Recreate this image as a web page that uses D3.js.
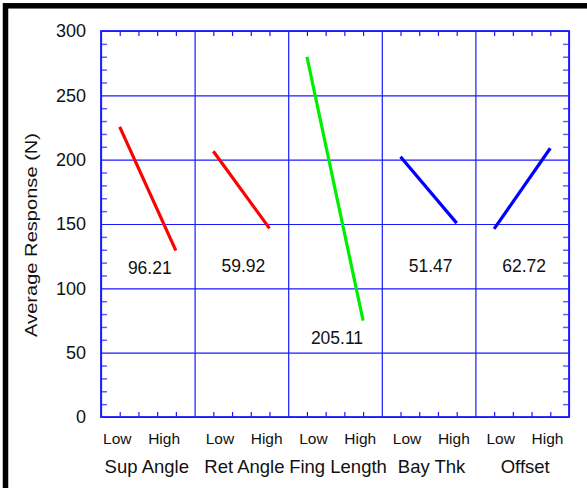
<!DOCTYPE html>
<html>
<head>
<meta charset="utf-8">
<script src="https://cdn.jsdelivr.net/npm/d3@7"></script>
<style>
  body { margin: 0; background: #fff; }
  text { font-family: "Liberation Sans", Arial, sans-serif; fill: #111; }
</style>
</head>
<body>
<div id="chart"></div>
<script>
var svgWidth = 587;
var svgHeight = 488;

// factors, low / high average response (N) and effect labels
var factors = ["Sup Angle", "Ret Angle", "Fing Length", "Bay Thk", "Offset"];
var lowValues = [225.5, 206.5, 280.0, 202.2, 146.2];
var highValues = [129.3, 146.6, 74.9, 150.7, 208.9];
var effects = ["96.21", "59.92", "205.11", "51.47", "62.72"];
var lineColors = ["#ff0000", "#ff0000", "#00ee00", "#0000ff", "#0000ff"];
var levelLabels = ["Low", "High"];
var yTicks = [0, 50, 100, 150, 200, 250, 300];

var margin = { top: 31, right: 18, bottom: 71, left: 101 };
var width = svgWidth - margin.left - margin.right;
var height = svgHeight - margin.top - margin.bottom;
var blue = "#1a1aff";

var svg = d3.select("#chart")
  .append("svg")
  .attr("width", svgWidth)
  .attr("height", svgHeight);

// black frame at the top left
svg.append("rect")
  .attr("x", 5.5).attr("y", 5.8)
  .attr("width", 800).attr("height", 800)
  .attr("fill", "white")
  .attr("stroke", "black")
  .attr("stroke-width", 5.5);

var chartGroup = svg.append("g")
  .attr("transform", `translate(${margin.left}, ${margin.top})`);

var xScale = d3.scaleLinear().domain([0, factors.length]).range([0, width]);
var yScale = d3.scaleLinear().domain([0, 300]).range([height, 0]);

// minor ticks, inside on all four sides
var minorY = d3.range(10, 300, 10).filter(v => v % 50 !== 0);
var minorX = d3.range(0, factors.length, 0.2).filter(v => Math.abs(v - Math.round(v)) > 0.01);

chartGroup.append("g")
  .call(d3.axisLeft(yScale).tickValues(minorY).tickSize(-6).tickFormat(""))
  .call(g => g.select(".domain").remove())
  .selectAll("line").attr("stroke", "#6060ff").attr("stroke-width", 1.5);
chartGroup.append("g")
  .attr("transform", `translate(${width},0)`)
  .call(d3.axisRight(yScale).tickValues(minorY).tickSize(-6).tickFormat(""))
  .call(g => g.select(".domain").remove())
  .selectAll("line").attr("stroke", "#6060ff").attr("stroke-width", 1.5);
chartGroup.append("g")
  .call(d3.axisTop(xScale).tickValues(minorX).tickSize(-5).tickFormat(""))
  .call(g => g.select(".domain").remove())
  .selectAll("line").attr("stroke", blue).attr("stroke-width", 1.2);
chartGroup.append("g")
  .attr("transform", `translate(0,${height})`)
  .call(d3.axisBottom(xScale).tickValues(minorX).tickSize(-5).tickFormat(""))
  .call(g => g.select(".domain").remove())
  .selectAll("line").attr("stroke", blue).attr("stroke-width", 1.2);

// grid lines
chartGroup.append("g")
  .call(d3.axisLeft(yScale).tickValues(yTicks).tickSize(-width).tickFormat(""))
  .call(g => g.select(".domain").remove())
  .selectAll("line").attr("stroke", blue).attr("stroke-width", 1.2);
chartGroup.append("g")
  .attr("transform", `translate(0,${height})`)
  .call(d3.axisBottom(xScale).ticks(factors.length).tickSize(-height).tickFormat(""))
  .call(g => g.select(".domain").remove())
  .selectAll("line").attr("stroke", blue).attr("stroke-width", 1.2);

chartGroup.append("rect")
  .attr("width", width).attr("height", height)
  .attr("fill", "none")
  .attr("stroke", blue)
  .attr("stroke-width", 1.8);

// y tick labels
chartGroup.append("g")
  .call(d3.axisLeft(yScale).tickValues(yTicks).tickSize(0).tickPadding(15))
  .call(g => g.select(".domain").remove())
  .selectAll("text")
  .attr("font-size", "18px")
  .attr("font-family", "Liberation Sans, Arial, sans-serif")
  .attr("fill", "#111");

// effect lines
chartGroup.append("g").selectAll("line")
  .data(factors)
  .enter()
  .append("line")
  .attr("x1", (d, i) => xScale(i + 0.2))
  .attr("x2", (d, i) => xScale(i + 0.8))
  .attr("y1", (d, i) => yScale(lowValues[i]))
  .attr("y2", (d, i) => yScale(highValues[i]))
  .attr("stroke", (d, i) => lineColors[i])
  .attr("stroke-width", 3.2)
  .attr("stroke-linecap", "butt");

// effect values
chartGroup.append("g").selectAll("text")
  .data(effects)
  .enter()
  .append("text")
  .attr("x", (d, i) => xScale(i + 0.5) + 2)
  .attr("y", (d, i) => yScale(Math.min(112.5, Math.min(lowValues[i], highValues[i]) - 18.5)))
  .attr("text-anchor", "middle")
  .attr("font-size", "17.5px")
  .text(d => d);

// Low / High labels (first panel sits a little further left)
var levelGroup = chartGroup.append("g");
factors.forEach((f, i) => {
  levelLabels.forEach((lab, j) => {
    levelGroup.append("text")
      .attr("x", xScale(i + 0.27 + j * 0.5) - (i === 0 ? 9 : 0))
      .attr("y", height + 27)
      .attr("text-anchor", "middle")
      .attr("font-size", "15.5px")
      .text(lab);
  });
});

// factor names
chartGroup.append("g").selectAll("text")
  .data(factors)
  .enter()
  .append("text")
  .attr("x", (d, i) => xScale(i + 0.5) + (i === 0 ? -1 : 3))
  .attr("y", height + 56)
  .attr("text-anchor", "middle")
  .attr("font-size", "18.5px")
  .text(d => d);

// y axis title
svg.append("text")
  .attr("transform", `translate(37, ${margin.top + yScale(141.5)}) rotate(-90)`)
  .attr("text-anchor", "middle")
  .attr("font-size", "17px")
  .attr("textLength", 204)
  .attr("lengthAdjust", "spacingAndGlyphs")
  .text("Average Response (N)");
</script>
</body>
</html>
